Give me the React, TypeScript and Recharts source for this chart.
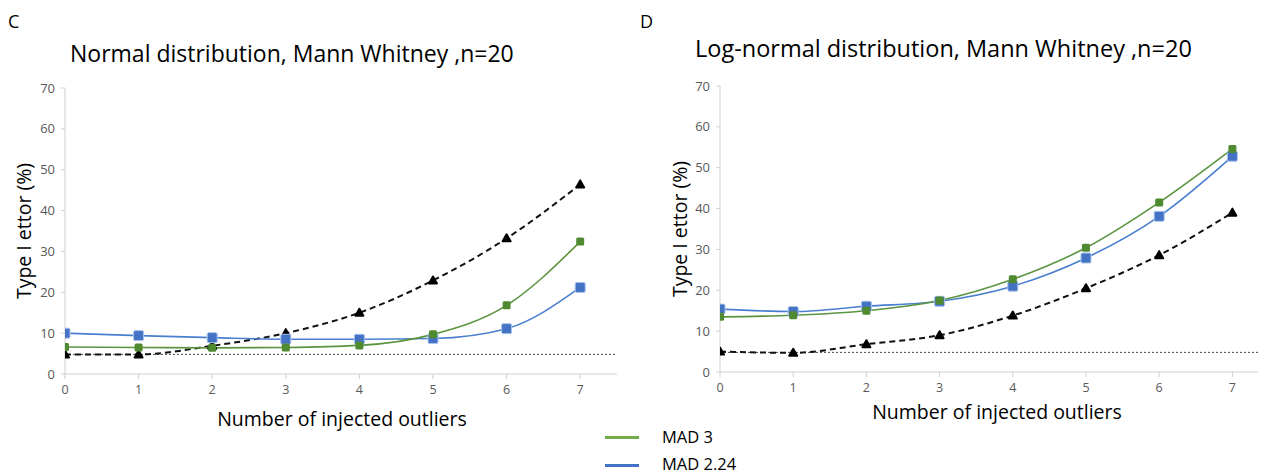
import React from 'react';
import { LineChart, Line, XAxis, YAxis, ReferenceLine } from 'recharts';

const outliers = [0, 1, 2, 3, 4, 5, 6, 7];

// panel C: normal distribution
const normalMad3 = [6.6, 6.5, 6.4, 6.5, 7.0, 9.7, 16.8, 32.4];
const normalMad224 = [10.0, 9.4, 8.9, 8.5, 8.5, 8.7, 11.1, 21.2];
const normalNoFilter = [4.8, 4.8, 6.9, 10.0, 15.0, 22.9, 33.2, 46.4];

// panel D: log-normal distribution
const logMad3 = [13.5, 13.9, 15.0, 17.5, 22.7, 30.4, 41.5, 54.6];
const logMad224 = [15.4, 14.8, 16.1, 17.3, 21.0, 27.9, 38.1, 52.8];
const logNoFilter = [5.0, 4.7, 6.8, 9.0, 13.8, 20.5, 28.6, 39.0];

const yTicks = [0, 10, 20, 30, 40, 50, 60, 70];
const nominalLevel = 4.8;

const GREEN = '#5b9440';
const GREEN_MARK = '#4f8a30';
const BLUE = '#4a7fd0';
const BLUE_MARK = '#4472c4';
const FONT = '"Open Sans", sans-serif';
const AXIS = '#d0d0d0';
const TICK = '#595959';

const buildRows = (a: number[], b: number[], c: number[]) =>
  outliers.map((x, i) => ({ x, mad3: a[i], mad224: b[i], none: c[i] }));

const squareDot = (size: number, fill: string, stroke?: string) => (props: any) => {
  const { cx, cy, index } = props;
  if (cx == null || cy == null) return <g key={index} />;
  return (
    <rect
      key={index}
      x={cx - size / 2}
      y={cy - size / 2}
      width={size}
      height={size}
      rx={1.5}
      fill={fill}
      stroke={stroke || 'none'}
      strokeWidth={stroke ? 1 : 0}
    />
  );
};

// rounded black triangle, like the blurry excel marker
const triangleDot = (props: any) => {
  const { cx, cy, index } = props;
  if (cx == null || cy == null) return <g key={index} />;
  const r = 4;
  return (
    <path
      key={index}
      d={`M${cx},${cy - r} L${cx + r},${cy + r - 1} L${cx - r},${cy + r - 1} Z`}
      fill="#000"
      stroke="#000"
      strokeWidth={2}
      strokeLinejoin="round"
    />
  );
};

interface PanelProps {
  rows: any[];
  left: number;
  width: number;
  top: number;
  bottom: number;
  xMax: number;
}

const Panel: React.FC<PanelProps> = ({ rows, left, width, top, bottom, xMax }) => (
  <div style={{ position: 'absolute', left, top: 0 }}>
    <LineChart
      width={width}
      height={474}
      data={rows}
      margin={{ top, right: 8, left: 0, bottom: 474 - bottom - 30 }}
    >
      <XAxis
        dataKey="x"
        type="number"
        domain={[0, xMax]}
        ticks={outliers}
        allowDataOverflow
        height={30}
        stroke={AXIS}
        tickSize={5}
        tickMargin={6}
        tick={{ fill: TICK, fontSize: 12.5, fontFamily: FONT }}
      />
      <YAxis
        domain={[0, 70]}
        ticks={yTicks}
        width={40}
        stroke={AXIS}
        tickSize={4}
        tickMargin={6}
        tick={{ fill: TICK, fontSize: 13, fontFamily: FONT }}
      />
      <ReferenceLine y={nominalLevel} stroke="#444" strokeWidth={1} strokeDasharray="2 2" />
      <Line
        type="monotone"
        dataKey="none"
        stroke="#111"
        strokeWidth={2}
        strokeDasharray="6 4"
        dot={triangleDot}
        isAnimationActive={false}
      />
      <Line
        type="monotone"
        dataKey="mad224"
        stroke={BLUE}
        strokeWidth={1.6}
        dot={squareDot(10, BLUE_MARK, '#aac3ec')}
        isAnimationActive={false}
      />
      <Line
        type="monotone"
        dataKey="mad3"
        stroke={GREEN}
        strokeWidth={1.6}
        dot={squareDot(8, GREEN_MARK)}
        isAnimationActive={false}
      />
    </LineChart>
  </div>
);

const txt = (extra: React.CSSProperties): React.CSSProperties => ({
  position: 'absolute',
  fontFamily: FONT,
  color: '#000',
  whiteSpace: 'nowrap',
  lineHeight: 1,
  ...extra,
});

export default function App() {
  return (
    <div style={{ position: 'absolute', left: 0, top: 0, width: 1266, height: 474, background: '#fff', overflow: 'hidden' }}>
      <Panel rows={buildRows(normalMad3, normalMad224, normalNoFilter)} left={25} width={600} top={88} bottom={374} xMax={7.5} />
      <Panel rows={buildRows(logMad3, logMad224, logNoFilter)} left={680} width={586} top={86} bottom={372} xMax={7.35} />

      <div style={txt({ left: 8, top: 12, fontSize: 18 })}>C</div>
      <div style={txt({ left: 640, top: 12, fontSize: 18 })}>D</div>
      <div style={txt({ left: 70, top: 42, fontSize: 23 })}>Normal distribution, Mann Whitney ,n=20</div>
      <div style={txt({ left: 695, top: 37, fontSize: 23.5 })}>Log-normal distribution, Mann Whitney ,n=20</div>

      <div style={txt({ left: 342, top: 419, fontSize: 19.5, transform: 'translate(-50%, -50%)' })}>Number of injected outliers</div>
      <div style={txt({ left: 997, top: 412, fontSize: 19.5, transform: 'translate(-50%, -50%)' })}>Number of injected outliers</div>
      <div style={txt({ left: 24, top: 231, fontSize: 19.5, transform: 'translate(-50%, -50%) rotate(-90deg)' })}>Type I ettor (%)</div>
      <div style={txt({ left: 680, top: 229, fontSize: 19.5, transform: 'translate(-50%, -50%) rotate(-90deg)' })}>Type I ettor (%)</div>

      <div style={{ position: 'absolute', left: 605, top: 436, width: 34, height: 3, background: '#70ad47' }} />
      <div style={txt({ left: 662, top: 437, fontSize: 16.5, transform: 'translateY(-50%)' })}>MAD 3</div>
      <div style={{ position: 'absolute', left: 605, top: 464, width: 34, height: 3, background: '#4472c4' }} />
      <div style={txt({ left: 662, top: 464, fontSize: 16.5, transform: 'translateY(-50%)' })}>MAD 2.24</div>
    </div>
  );
}
